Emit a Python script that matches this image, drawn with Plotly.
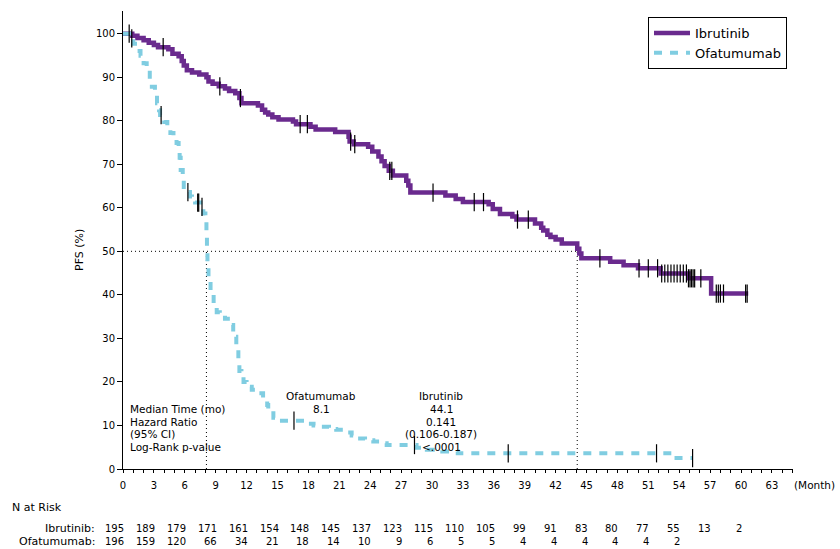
import numpy as np
import plotly.graph_objects as go

# ---------------- data ----------------
ibr_months = [0, 0.9, 1.4, 2.0, 2.5, 3.0, 3.4, 4.4, 4.8, 5.4, 5.7, 5.9, 6.2, 6.7, 7.4, 8.1, 8.3,
              8.7, 9.3, 9.9, 10.3, 10.9, 11.3, 11.5, 13.1, 13.5, 13.8, 14.1, 14.5, 15.1, 16.5,
              16.8, 18.2, 18.7, 20.6, 21.9, 22.0, 22.4, 23.8, 24.2, 24.8, 25.1, 25.4, 25.8,
              26.2, 27.5, 27.7, 27.9, 31.3, 32.3, 33.0, 35.5, 35.9, 36.6, 37.8, 38.2, 40.0,
              40.6, 40.8, 41.2, 41.5, 42.0, 42.6, 44.1, 44.3, 44.5, 47.3, 48.6, 50.0, 52.2,
              54.9, 57.1, 60.7]
ibr_pfs = [100, 99.5, 99.0, 98.5, 97.9, 97.4, 96.9, 96.4, 95.4, 94.8, 93.7, 92.7, 91.6, 91.1,
           90.6, 90.0, 89.0, 88.5, 87.9, 87.4, 86.8, 86.3, 85.2, 84.0, 83.5, 82.5, 81.9, 81.4,
           80.8, 80.3, 79.8, 79.2, 78.6, 78.0, 77.4, 76.3, 75.2, 74.6, 74.0, 72.9, 71.8, 70.7,
           69.6, 68.5, 67.4, 66.2, 65.1, 63.5, 62.8, 62.0, 61.3, 60.8, 59.7, 58.6, 58.0, 57.3,
           56.4, 55.4, 54.8, 53.8, 53.3, 52.7, 51.8, 50.6, 49.5, 48.4, 47.6, 46.8, 46.1, 44.9,
           43.8, 40.3, 40.3]

ofa_months = [0, 0.6, 1.0, 1.4, 1.7, 2.0, 2.3, 2.6, 2.8, 3.1, 3.3, 3.5, 3.6, 4.0, 4.3, 4.6,
              4.9, 5.2, 5.4, 5.5, 5.6, 5.8, 5.9, 6.2, 6.5, 6.7, 7.0, 7.5, 7.8, 8.0, 8.1, 8.15,
              8.2, 8.3, 8.5, 8.8, 9.1, 9.4, 9.9, 10.4, 10.7, 10.9, 11.0, 11.1, 11.2, 11.3, 11.5,
              11.7, 12.0, 12.5, 13.0, 13.6, 14.0, 14.1, 14.6, 15.2, 17.8, 18.5, 19.3, 20.0,
              20.7, 21.7, 22.2, 22.7, 23.5, 24.3, 25.0, 25.6, 28.5, 29.5, 31.0, 32.5, 53.4, 55.3]
ofa_pfs = [100, 98.9, 97.7, 96.0, 94.9, 93.2, 91.6, 89.5, 87.8, 85.8, 84.0, 82.4, 81.3, 79.7,
           78.5, 77.2, 76.0, 74.9, 74.0, 71.5, 68.7, 66.6, 64.8, 63.6, 62.6, 61.8, 61.2, 60.2,
           58.7, 57.2, 54.1, 51.0, 47.2, 43.4, 40.3, 37.7, 36.0, 35.4, 34.5, 33.1, 31.5, 30.4,
           28.5, 27.3, 24.3, 22.5, 21.2, 20.0, 18.9, 18.2, 17.4, 16.3, 14.7, 12.8, 11.8, 11.1,
           10.4, 10.0, 9.7, 9.2, 9.0, 8.4, 7.7, 7.0, 6.6, 6.3, 5.9, 5.5, 4.9, 4.4, 4.0, 3.6,
           2.5, 2.5]

ibr_censor = [0.6, 3.9, 9.4, 11.4, 17.2, 17.9, 22.1, 22.5, 25.9, 26.1, 30.1, 34.1, 35.0, 38.3,
              39.35, 46.3, 50.1, 51.0, 51.9, 52.3, 52.6, 52.9, 53.2, 53.5, 53.8, 54.1, 54.4,
              54.7, 54.9, 55.05, 55.2, 55.35, 55.5, 56.1, 57.6, 57.8, 58.0, 58.3, 60.45, 60.6]
ofa_censor = [0.85, 3.7, 6.3, 7.25, 7.35, 7.67, 16.6, 28.3, 37.4, 51.8, 55.3]

risk_months_ibr = [0, 3, 6, 9, 12, 15, 18, 21, 24, 27, 30, 33, 36, 39, 42, 45, 48, 51, 54, 57, 60]
risk_ibr = [195, 189, 179, 171, 161, 154, 148, 145, 137, 123, 115, 110, 105, 99, 91, 83, 80,
            77, 55, 13, 2]
risk_months_ofa = [0, 3, 6, 9, 12, 15, 18, 21, 24, 27, 30, 33, 36, 39, 42, 45, 48, 51, 54]
risk_ofa = [196, 159, 120, 66, 34, 21, 18, 14, 10, 9, 6, 5, 5, 4, 4, 4, 4, 4, 2]

median_ofa = 8.1
median_ibr = 44.1
stats_labels = ["Median Time (mo)", "Hazard Ratio", "(95% CI)", "Log-Rank p-value"]
stats_ofa = ["Ofatumumab", "8.1"]
stats_ibr = ["Ibrutinib", "44.1", "0.141", "(0.106-0.187)", "<.0001"]

PURPLE = "#6a2a8e"
BLUE = "#80cde1"
FONT = "DejaVu Sans"

# plot-area geometry (pixels) for paper-coordinate text placement
W, H = 840, 549
ML, MR, MT, MB = 123, 47, 11, 80
PW, PH = W - ML - MR, H - MT - MB


def px_x(px):
    return (px - ML) / PW


def px_y(py):
    return (H - MB - py) / PH


def surv_at(times, vals, t):
    idx = np.searchsorted(np.array(times), np.array(t), side="right") - 1
    return np.array(vals)[idx]


fig = go.Figure()

fig.add_trace(go.Scatter(x=ibr_months, y=ibr_pfs, mode="lines", name="Ibrutinib",
                         line=dict(color=PURPLE, width=4.5, shape="hv")))
fig.add_trace(go.Scatter(x=ofa_months, y=ofa_pfs, mode="lines", name="Ofatumumab",
                         line=dict(color=BLUE, width=4, shape="hv", dash="8px,8px")))

for times, vals, cens in [(ibr_months, ibr_pfs, ibr_censor), (ofa_months, ofa_pfs, ofa_censor)]:
    fig.add_trace(go.Scatter(x=cens, y=surv_at(times, vals, cens), mode="markers",
                             showlegend=False, hoverinfo="skip",
                             marker=dict(symbol="line-ns-open", size=13, color="black",
                                         line=dict(color="black", width=1.2))))

# median reference lines
dot = dict(color="black", width=1, dash="1px,3px")
fig.add_shape(type="line", x0=0, x1=median_ibr, y0=50, y1=50, line=dot, layer="below")
fig.add_shape(type="line", x0=median_ofa, x1=median_ofa, y0=0, y1=50, line=dot, layer="below")
fig.add_shape(type="line", x0=median_ibr, x1=median_ibr, y0=0, y1=50, line=dot, layer="below")

ann = []
row_y = [409, 421.5, 434, 447.3]
# stats block
for lab, py in zip(stats_labels, row_y):
    ann.append(dict(text=lab, x=px_x(128), y=px_y(py), xref="paper", yref="paper",
                    xanchor="left", yanchor="middle", showarrow=False,
                    font=dict(size=10.5, color="black")))
for txt, py in zip(stats_ofa, [396, 409]):
    ann.append(dict(text=txt, x=px_x(321), y=px_y(py), xref="paper", yref="paper",
                    xanchor="center", yanchor="middle", showarrow=False,
                    font=dict(size=10.5, color="black")))
for txt, py in zip(stats_ibr, [396] + row_y):
    ann.append(dict(text=txt, x=px_x(441), y=px_y(py), xref="paper", yref="paper",
                    xanchor="center", yanchor="middle", showarrow=False,
                    font=dict(size=10.5, color="black")))

# axis titles
ann.append(dict(text="PFS (%)", textangle=-90, x=px_x(80), y=px_y(250), xref="paper",
                yref="paper", xanchor="center", yanchor="middle", showarrow=False,
                font=dict(size=11, color="black")))
ann.append(dict(text="(Month)", x=px_x(814), y=px_y(485), xref="paper", yref="paper",
                xanchor="center", yanchor="middle", showarrow=False,
                font=dict(size=10.5, color="black")))

# risk table
ann.append(dict(text="N at Risk", x=px_x(10), y=px_y(507), xref="paper", yref="paper",
                xanchor="left", yanchor="middle", showarrow=False,
                font=dict(size=11, color="black")))
ann.append(dict(text="Ibrutinib:", x=px_x(97), y=px_y(528), xref="paper", yref="paper",
                xanchor="right", yanchor="middle", showarrow=False,
                font=dict(size=11, color="black")))
ann.append(dict(text="Ofatumumab:", x=px_x(97), y=px_y(541.7), xref="paper", yref="paper",
                xanchor="right", yanchor="middle", showarrow=False,
                font=dict(size=11, color="black")))
for m, n in zip(risk_months_ibr, risk_ibr):
    ann.append(dict(text=str(n), x=m, y=px_y(528), xref="x", yref="paper", xanchor="right",
                    yanchor="middle", xshift=3, showarrow=False,
                    font=dict(size=10, color="black")))
for m, n in zip(risk_months_ofa, risk_ofa):
    ann.append(dict(text=str(n), x=m, y=px_y(541.7), xref="x", yref="paper", xanchor="right",
                    yanchor="middle", xshift=3, showarrow=False,
                    font=dict(size=10, color="black")))

fig.update_layout(
    width=W, height=H,
    margin=dict(l=ML, r=MR, t=MT, b=MB, pad=0),
    paper_bgcolor="white", plot_bgcolor="white",
    font=dict(family=FONT, size=11, color="black"),
    showlegend=True,
    legend=dict(x=px_x(648), y=px_y(17), xanchor="left", yanchor="top",
                bordercolor="black", borderwidth=1, bgcolor="white",
                font=dict(size=13, color="black"), tracegroupgap=0, itemwidth=36),
    annotations=ann,
    xaxis=dict(range=[0, (793 - ML) / 10.3], tick0=0, dtick=3, ticks="outside", ticklen=3,
               tickcolor="black", showline=True, linecolor="black", linewidth=1,
               showgrid=False, zeroline=False, tickfont=dict(size=10),
               ticklabelstandoff=4,
               minor=dict(dtick=1, ticks="outside", ticklen=3, tickcolor="black",
                          showgrid=False)),
    yaxis=dict(range=[0, 105.2], tick0=0, dtick=10, ticks="outside", ticklen=5,
               tickcolor="black", showline=True, linecolor="black", linewidth=1,
               showgrid=False, zeroline=False, tickfont=dict(size=10)),
)

fig.write_html("out.html")
